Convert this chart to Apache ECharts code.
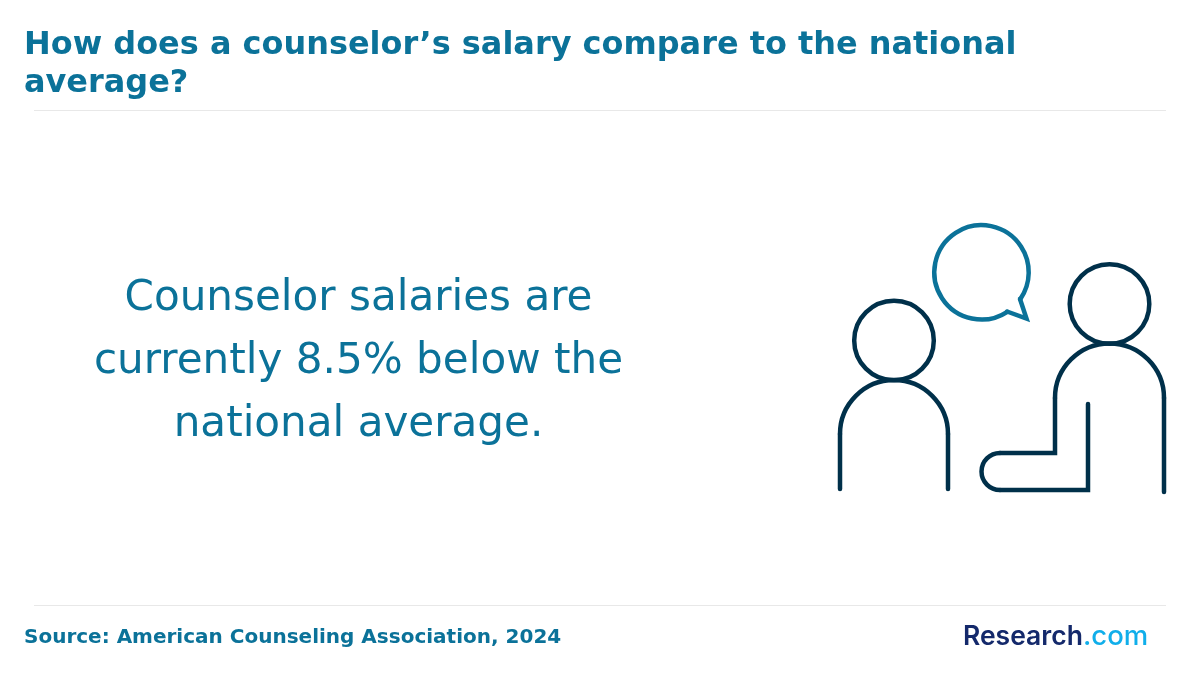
<!DOCTYPE html>
<html>
<head>
<meta charset="utf-8">
<style>
    html, body { margin: 0; padding: 0; background: #fff; }
    #chart-view { width: 1200px; height: 680px; }
</style>
<script src="https://cdn.jsdelivr.net/npm/echarts@6/dist/echarts.min.js"></script>
</head>
<body>
<div id="chart-view"></div>
<script>
var titleLines = ['How does a counselor\u2019s salary compare to the national', 'average?'];
var statementLines = ['Counselor salaries are', 'currently 8.5% below the', 'national average.'];
var sourceText = 'Source: American Counseling Association, 2024';
var logoMain = 'Research';
var logoDomain = '.com';

var teal = '#0b7299';
var navy = '#00304a';
var ruleColor = '#e8e8e8';
var fontName = '"DejaVu Sans", sans-serif';
var PI = Math.PI;

function ruleLine(y) {
    return {
        type: 'line',
        shape: { x1: 34, y1: y, x2: 1166, y2: y },
        style: { stroke: ruleColor, lineWidth: 1 }
    };
}

function iconStyle(color) {
    return { fill: 'none', stroke: color, lineWidth: 4.5, lineCap: 'round', lineJoin: 'miter' };
}
function circle(cx, cy, r, color) {
    return { type: 'circle', shape: { cx: cx, cy: cy, r: r }, style: iconStyle(color) };
}
function arc(cx, cy, r, from, to, color) {
    return {
        type: 'arc',
        shape: { cx: cx, cy: cy, r: r, startAngle: from, endAngle: to, clockwise: true },
        style: iconStyle(color)
    };
}
function poly(points, color) {
    return { type: 'polyline', shape: { points: points }, style: iconStyle(color) };
}

var elements = [ruleLine(110.5), ruleLine(605.5)];

statementLines.forEach(function (line, i) {
    elements.push({
        type: 'text',
        x: 358.5,
        y: 299.5 + i * 63,
        style: {
            text: line,
            fill: teal,
            font: '42.1px ' + fontName,
            textAlign: 'center',
            textVerticalAlign: 'middle'
        }
    });
});

// left person
elements.push(circle(894, 340.5, 39.8, navy));
elements.push(poly([[840, 489], [840, 434]], navy));
elements.push(arc(894, 434, 54, PI, 2 * PI, navy));
elements.push(poly([[948, 434], [948, 489]], navy));

// right person
elements.push(circle(1109.5, 304, 39.8, navy));
elements.push(poly([[1164, 492], [1164, 398]], navy));
elements.push(arc(1109.5, 398, 54.5, PI, 2 * PI, navy));
elements.push(poly([[1055, 398], [1055, 453], [1000, 453]], navy));
elements.push(arc(1000, 471.5, 18.5, PI / 2, 3 * PI / 2, navy));
elements.push(poly([[1000, 490], [1088, 490], [1088, 404]], navy));

// speech bubble
elements.push(arc(981.5, 272.3, 47.2, 56.8 * PI / 180, 395 * PI / 180, teal));
elements.push(poly([[1020, 299], [1026.5, 318.5], [1007, 311.5]], teal));

// logo
elements.push({
    type: 'text',
    x: 963,
    y: 637,
    style: {
        text: logoMain,
        fill: '#14296b',
        font: '600 26.5px Inter, sans-serif',
        textAlign: 'left',
        textVerticalAlign: 'middle'
    }
});
elements.push({
    type: 'text',
    x: 1083,
    y: 637,
    style: {
        text: logoDomain,
        fill: '#10aeea',
        font: '500 27.5px Inter, sans-serif',
        textAlign: 'left',
        textVerticalAlign: 'middle'
    }
});

var chart = echarts.init(document.getElementById('chart-view'), null, { renderer: 'canvas' });
chart.setOption({
    animation: false,
    backgroundColor: '#fff',
    title: [
        {
            text: titleLines.join('\n'),
            left: 19,
            top: 22,
            textStyle: { color: teal, fontFamily: fontName, fontWeight: 'bold', fontSize: 31.95, lineHeight: 38 }
        },
        {
            text: sourceText,
            left: 19,
            top: 622,
            textStyle: { color: teal, fontFamily: fontName, fontWeight: 'bold', fontSize: 20, lineHeight: 22 }
        }
    ],
    graphic: { elements: elements }
});
</script>
</body>
</html>
